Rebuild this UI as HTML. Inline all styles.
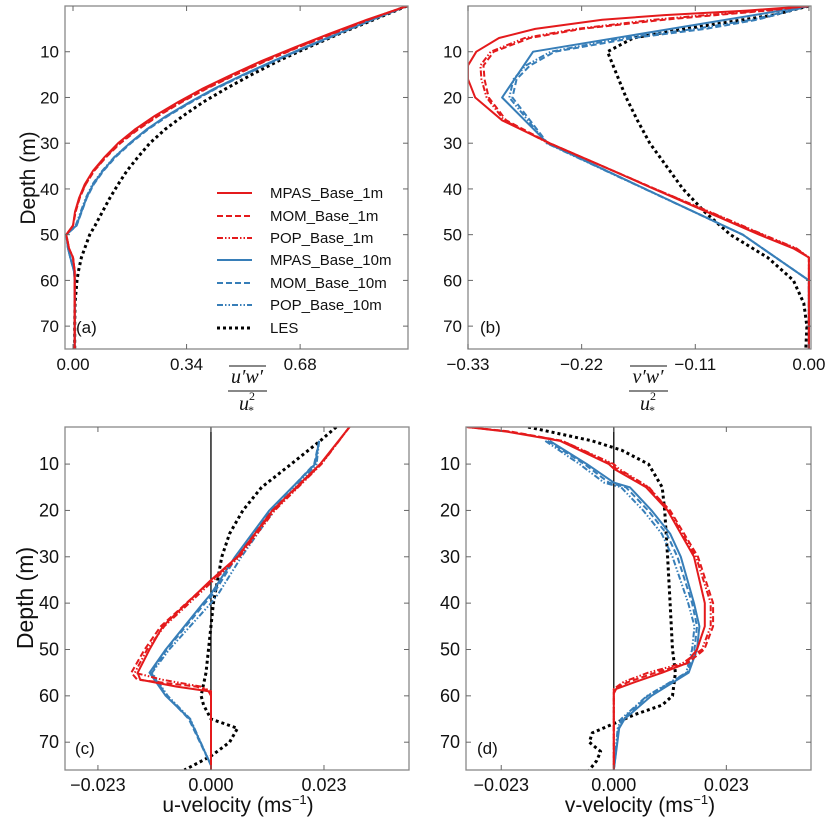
<!DOCTYPE html>
<html><head><meta charset="utf-8"><style>
body{margin:0;background:#fff;}
svg{display:block;font-family:"Liberation Sans",sans-serif;}
</style></head><body>
<svg id="fig" width="831" height="838" viewBox="0 0 831 838"></svg>
<script>
// ---- Panel (a) data: u'w'/u*^2 ----
const aDepth = [0,3,6,9,12,15,18,21,24,27,30,33,36,39,42,45,48,50,53,55,58,60,65,70,75];
const aMPAS1 = [1,0.88,0.77,0.665,0.565,0.475,0.39,0.315,0.245,0.185,0.135,0.095,0.06,0.035,0.018,0.006,0.0,-0.02,-0.012,0.0,0.005,0.005,0.005,0.005,0.005];
const aMOM1  = [1,0.885,0.78,0.675,0.578,0.488,0.402,0.326,0.256,0.195,0.142,0.1,0.064,0.038,0.02,0.008,0.0,-0.02,-0.012,0.0,0.005,0.005,0.005,0.005,0.005];
const aPOP1  = [1,0.883,0.777,0.672,0.574,0.484,0.398,0.322,0.252,0.191,0.139,0.098,0.063,0.037,0.019,0.007,0.0,-0.02,-0.012,0.0,0.005,0.005,0.005,0.005,0.005];
const aMPAS10= [1,0.895,0.795,0.695,0.6,0.51,0.425,0.35,0.28,0.22,0.17,0.125,0.09,0.06,0.04,0.025,0.01,-0.02,-0.015,-0.008,0.003,0.005,0.005,0.005,0.005];
const aMOM10 = [1,0.897,0.798,0.7,0.605,0.515,0.43,0.355,0.285,0.224,0.173,0.128,0.092,0.062,0.041,0.026,0.011,-0.02,-0.015,-0.008,0.003,0.005,0.005,0.005,0.005];
const aPOP10 = [1,0.896,0.797,0.698,0.603,0.513,0.428,0.352,0.282,0.221,0.17,0.124,0.088,0.058,0.038,0.023,0.008,-0.02,-0.015,-0.008,0.003,0.005,0.005,0.005,0.005];
const aLES   = [1,0.9,0.8,0.705,0.615,0.535,0.46,0.39,0.33,0.275,0.23,0.195,0.162,0.135,0.11,0.088,0.066,0.05,0.035,0.025,0.016,0.012,0.006,0.005,0.005];
const aTicksX = [0,0.34,0.68];
const aTickLabelsX = ["0.00","0.34","0.68"];
// ---- Panel (b) data: v'w'/u*^2 ----
const bDepthRed = [0,1,2,3,5,7,10,13,16,20,25,30,35,40,45,50,53,55,60,75];
const bMPAS1 = [0,-0.06,-0.14,-0.2,-0.265,-0.3,-0.322,-0.33,-0.33,-0.323,-0.297,-0.251,-0.2,-0.15,-0.099,-0.048,-0.015,0,0,0];
const bMOM1  = [0,-0.04,-0.09,-0.14,-0.22,-0.27,-0.305,-0.315,-0.314,-0.31,-0.293,-0.251,-0.2,-0.149,-0.097,-0.045,-0.013,0,0,0];
const bPOP1  = [0,-0.045,-0.1,-0.15,-0.225,-0.275,-0.308,-0.318,-0.317,-0.312,-0.295,-0.252,-0.2,-0.149,-0.096,-0.044,-0.012,0,0,0];
const bDepthBlue = [0,10,20,30,50,60,75];
const bMPAS10 = [0,-0.267,-0.297,-0.253,-0.064,0,0];
const bDepthBlue2 = [0,3,5,7,10,13,16,20,25,30,50,60,75];
const bMOM10 = [0,-0.05,-0.1,-0.17,-0.246,-0.27,-0.283,-0.287,-0.27,-0.253,-0.064,0,0];
const bPOP10 = [0,-0.055,-0.11,-0.18,-0.25,-0.274,-0.286,-0.29,-0.272,-0.254,-0.064,0,0];
const bDepthLES = [0,2,5,7,10,15,20,25,30,35,40,45,50,55,60,65,70,75];
const bLES = [0,-0.035,-0.12,-0.17,-0.195,-0.186,-0.177,-0.166,-0.154,-0.138,-0.122,-0.101,-0.076,-0.04,-0.015,-0.005,-0.002,-0.003];
const bTicksX = [-0.33,-0.22,-0.11,0];
const bTickLabelsX = ["\u22120.33","\u22120.22","\u22120.11","0.00"];
// ---- Panel (c) data: u-velocity ----
const cDepthRed = [2,10,20,30,35,40,45,50,55,56.5,58,59,60,76];
const cMPAS1 = [0.0282,0.0222,0.0125,0.0054,0,-0.0049,-0.0098,-0.0125,-0.0149,-0.0144,-0.007,-0.0005,0,0];
const cMOM1  = [0.0282,0.0224,0.0127,0.0055,0.0002,-0.005,-0.0102,-0.0135,-0.0162,-0.015,-0.003,0,0,0];
const cPOP1  = [0.0282,0.0225,0.013,0.0058,0.0006,-0.0044,-0.0095,-0.013,-0.0155,-0.01,-0.002,0,0,0];
const cDepthBlue = [5,10,20,30,38,40,50,55,60,65,75];
const cMPAS10 = [0.022,0.0212,0.0119,0.0049,0,-0.0016,-0.0092,-0.0125,-0.0092,-0.0043,0];
const cMOM10  = [0.022,0.021,0.0122,0.0052,0.0005,-0.0012,-0.009,-0.0122,-0.009,-0.0045,0];
const cPOP10  = [0.022,0.0215,0.0128,0.0062,0.0015,0.0,-0.0085,-0.012,-0.0088,-0.0042,0];
const cDepthLES = [2,5,10,15,20,25,30,40,50,55,60,62,65,67,70,73,76];
const cLES = [0.0255,0.0222,0.0163,0.0103,0.0065,0.0038,0.0022,0.0005,-0.0005,-0.001,-0.002,-0.0015,0,0.0054,0.0038,0,-0.0054];
const cTicksX = [-0.023,0,0.023];
const cTickLabelsX = ["\u22120.023","0.000","0.023"];
// ---- Panel (d) data: v-velocity ----
const dDepthRed = [2,3,5,10,11,15,20,30,40,45,50,53,55,57,58.5,59.5,76];
const dMPAS1 = [-0.030,-0.0219,-0.011,-0.001,0,0.0066,0.011,0.0164,0.0186,0.0186,0.017,0.0148,0.0099,0.0044,0.0005,0,0];
const dMOM1  = [-0.030,-0.021,-0.0105,-0.0005,0.0005,0.007,0.0115,0.0172,0.0203,0.0203,0.0185,0.015,0.0085,0.003,0,0,0];
const dPOP1  = [-0.030,-0.0215,-0.0105,0.0,0.001,0.0072,0.0112,0.0168,0.0198,0.0198,0.018,0.014,0.007,0.002,0,0,0];
const dDepthBlue = [5,10,14,15,20,25,30,40,45,50,55,60,65,67,76];
const dMPAS10 = [-0.0131,-0.0055,0,0.0033,0.0077,0.0115,0.0137,0.0164,0.0175,0.017,0.0153,0.0077,0.0022,0.0011,0];
const dMOM10  = [-0.0135,-0.006,-0.001,0.0025,0.007,0.0108,0.013,0.016,0.017,0.0165,0.015,0.007,0.0018,0.001,0];
const dPOP10  = [-0.014,-0.007,-0.002,0.0015,0.006,0.0098,0.012,0.0152,0.0165,0.016,0.0148,0.0068,0.0015,0.0008,0];
const dDepthLES = [2,5,7,10,15,20,30,40,50,55,60,62,64,66,68,70,72,74,76];
const dLES = [-0.0175,-0.0044,0.0016,0.0071,0.0099,0.0104,0.011,0.0115,0.012,0.0126,0.012,0.0099,0.0044,0,-0.0044,-0.005,-0.0027,-0.0035,-0.005];
const dTicksX = [-0.023,0,0.023];
const dTickLabelsX = ["\u22120.023","0.000","0.023"];
const depthTicks = [10,20,30,40,50,60,70];

const NS="http://www.w3.org/2000/svg";
const svg=document.getElementById('fig');
function mk(tag,attrs,parent){const e=document.createElementNS(NS,tag);for(const k in attrs)e.setAttribute(k,attrs[k]);(parent||svg).appendChild(e);return e;}
const RED="#e41a1c",BLUE="#377eb8";
const STY={
 solid:{"stroke-width":2},
 dash:{"stroke-width":2,"stroke-dasharray":"6,3"},
 dot:{"stroke-width":2,"stroke-dasharray":"6,2,1.5,2,1.5,2"},
 les:{"stroke-width":3,"stroke-dasharray":"3,3"}
};
function panel(id,x0,x1,y0,y1,xd,yd,ticks,labels,series,zeroLine,label,labelPos,fs){
 const g=mk('g',{});
 
 
 const sx=v=>x0+(v-xd[0])/(xd[1]-xd[0])*(x1-x0);
 const sy=d=>y0+(d-yd[0])/(yd[1]-yd[0])*(y1-y0);
 const cp=mk('clipPath',{id:'clip'+id},g);
 mk('rect',{x:x0,y:y0,width:x1-x0,height:y1-y0},cp);
 const sg=mk('g',{"clip-path":"url(#clip"+id+")"},g);
 if(zeroLine){const z=mk('line',{x1:sx(0),x2:sx(0),y1:y0,y2:y1,stroke:"#000","stroke-width":1.3},sg);
  
  }
 series.forEach(s=>{
  const pts=s.vals.map((v,i)=>sx(v).toFixed(1)+","+sy(s.depth[i]).toFixed(1)).join(" ");
  const a={points:pts,fill:"none",stroke:s.color,"stroke-linejoin":"round"};Object.assign(a,STY[s.style]);
  const p=mk('polyline',a,sg);
  
  
 });
 const fr=mk('rect',{x:x0,y:y0,width:x1-x0,height:y1-y0,fill:"none",stroke:"#888","stroke-width":1.3},g);
 
 
 ticks.forEach((t,i)=>{
  const x=sx(t);
  mk('line',{x1:x,x2:x,y1:y1,y2:y1-5,stroke:"#666"},g);
  mk('line',{x1:x,x2:x,y1:y0,y2:y0+5,stroke:"#666"},g);
  const tl=mk('text',{x:x,y:y1+21,"text-anchor":"middle","font-size":fs,fill:"#111"},g);
  tl.textContent=labels[i];
  
  
 });
 depthTicks.forEach(t=>{
  if(t<yd[0]||t>yd[1])return;
  const y=sy(t);
  mk('line',{x1:x0,x2:x0+5,y1:y,y2:y,stroke:"#666"},g);
  mk('line',{x1:x1,x2:x1-5,y1:y,y2:y,stroke:"#666"},g);
  const tl=mk('text',{x:x0-6,y:y+6,"text-anchor":"end","font-size":fs,fill:"#111"},g);
  tl.textContent=t;
  
  
 });
 const pl=mk('text',{x:labelPos[0],y:labelPos[1],"font-size":17,fill:"#111"},g);
 pl.textContent=label;
 
 
}
function S(name,depth,vals,color,style){return {name,depth,vals,color,style};}
panel('a',65,408,6,349,[-0.024,1.003],[0,75],aTicksX,aTickLabelsX,[
 S('les',aDepth,aLES,"#000",'les'),
 S('pop-10m',aDepth,aPOP10,BLUE,'dot'),S('mom-10m',aDepth,aMOM10,BLUE,'dash'),S('mpas-10m',aDepth,aMPAS10,BLUE,'solid'),
 S('pop-1m',aDepth,aPOP1,RED,'dot'),S('mom-1m',aDepth,aMOM1,RED,'dash'),S('mpas-1m',aDepth,aMPAS1,RED,'solid')
],false,'(a)',[76,333],17);
panel('b',468,811,6,349,[-0.33,0.002],[0,75],bTicksX,bTickLabelsX,[
 S('les',bDepthLES,bLES,"#000",'les'),
 S('pop-10m',bDepthBlue2,bPOP10,BLUE,'dot'),S('mom-10m',bDepthBlue2,bMOM10,BLUE,'dash'),S('mpas-10m',bDepthBlue,bMPAS10,BLUE,'solid'),
 S('pop-1m',bDepthRed,bPOP1,RED,'dot'),S('mom-1m',bDepthRed,bMOM1,RED,'dash'),S('mpas-1m',bDepthRed,bMPAS1,RED,'solid')
],false,'(b)',[480,333],17);
panel('c',65,409,427,770,[-0.0297,0.0403],[2,76],cTicksX,cTickLabelsX,[
 S('les',cDepthLES,cLES,"#000",'les'),
 S('pop-10m',cDepthBlue,cPOP10,BLUE,'dot'),S('mom-10m',cDepthBlue,cMOM10,BLUE,'dash'),S('mpas-10m',cDepthBlue,cMPAS10,BLUE,'solid'),
 S('pop-1m',cDepthRed,cPOP1,RED,'dot'),S('mom-1m',cDepthRed,cMOM1,RED,'dash'),S('mpas-1m',cDepthRed,cMPAS1,RED,'solid')
],true,'(c)',[75,754],18);
panel('d',466,811,427,770,[-0.0302,0.0403],[2,76],dTicksX,dTickLabelsX,[
 S('les',dDepthLES,dLES,"#000",'les'),
 S('pop-10m',dDepthBlue,dPOP10,BLUE,'dot'),S('mom-10m',dDepthBlue,dMOM10,BLUE,'dash'),S('mpas-10m',dDepthBlue,dMPAS10,BLUE,'solid'),
 S('pop-1m',dDepthRed,dPOP1,RED,'dot'),S('mom-1m',dDepthRed,dMOM1,RED,'dash'),S('mpas-1m',dDepthRed,dMPAS1,RED,'solid')
],true,'(d)',[477,754],18);
</script>
<svg width="831" height="838" style="position:absolute;left:0;top:0">
 <g font-family="Liberation Sans, sans-serif" fill="#111">
  <text transform="translate(35,178) rotate(-90)" text-anchor="middle" font-size="21">Depth (m)</text>
  <text transform="translate(33,598) rotate(-90)" text-anchor="middle" font-size="23">Depth (m)</text>
  <g font-family="Liberation Serif, serif" font-style="italic" font-size="20" text-anchor="middle">
   <line x1="229" x2="266" y1="366" y2="366" stroke="#111" stroke-width="1"/>
   <text x="247" y="383">u′w′</text>
   <line x1="228" x2="267" y1="391" y2="391" stroke="#111" stroke-width="1"/>
   <text x="244" y="410">u</text><text x="252" y="400" font-size="12" font-style="normal">2</text><text x="251" y="414" font-size="12" font-style="normal">*</text>
  </g>
  <g font-family="Liberation Serif, serif" font-style="italic" font-size="20" text-anchor="middle">
   <line x1="630" x2="667" y1="366" y2="366" stroke="#111" stroke-width="1"/>
   <text x="648" y="383">v′w′</text>
   <line x1="629" x2="668" y1="391" y2="391" stroke="#111" stroke-width="1"/>
   <text x="645" y="410">u</text><text x="653" y="400" font-size="12" font-style="normal">2</text><text x="652" y="414" font-size="12" font-style="normal">*</text>
  </g>
  <text x="238" y="812" text-anchor="middle" font-size="21" font-family="Liberation Sans Narrow, Liberation Sans, sans-serif">u-velocity (ms<tspan dy="-8" font-size="13">−1</tspan><tspan dy="8">)</tspan></text>
  <text x="640" y="812" text-anchor="middle" font-size="21" font-family="Liberation Sans Narrow, Liberation Sans, sans-serif">v-velocity (ms<tspan dy="-8" font-size="13">−1</tspan><tspan dy="8">)</tspan></text>
  <g font-size="15">
   <g><line x1="217" x2="252" y1="193" y2="193" stroke="#e41a1c" stroke-width="2"/><text x="270" y="198">MPAS_Base_1m</text></g>
   <g><line x1="217" x2="252" y1="216" y2="216" stroke="#e41a1c" stroke-width="2" stroke-dasharray="6,3"/><text x="270" y="221">MOM_Base_1m</text></g>
   <g><line x1="217" x2="252" y1="238" y2="238" stroke="#e41a1c" stroke-width="2" stroke-dasharray="6,2,1.5,2,1.5,2"/><text x="270" y="243">POP_Base_1m</text></g>
   <g><line x1="217" x2="252" y1="260" y2="260" stroke="#377eb8" stroke-width="2"/><text x="270" y="265">MPAS_Base_10m</text></g>
   <g><line x1="217" x2="252" y1="283" y2="283" stroke="#377eb8" stroke-width="2" stroke-dasharray="6,3"/><text x="270" y="288">MOM_Base_10m</text></g>
   <g><line x1="217" x2="252" y1="305" y2="305" stroke="#377eb8" stroke-width="2" stroke-dasharray="6,2,1.5,2,1.5,2"/><text x="270" y="310">POP_Base_10m</text></g>
   <g><line x1="217" x2="252" y1="328" y2="328" stroke="#000" stroke-width="3" stroke-dasharray="3,3"/><text x="270" y="333">LES</text></g>
  </g>
 </g>
</svg>
</body></html>
